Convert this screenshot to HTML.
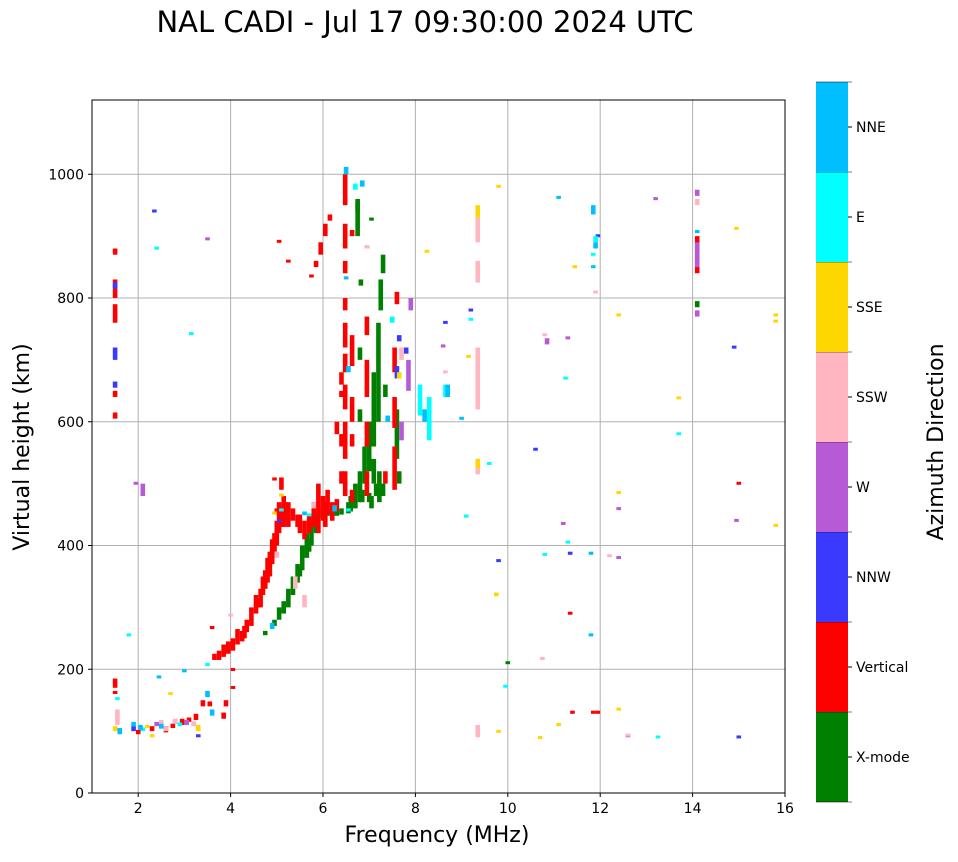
<!DOCTYPE html>
<html><head><meta charset="utf-8"><style>
body{margin:0;background:#fff;}
svg text{font-family:"DejaVu Sans","Liberation Sans",sans-serif;}
</style></head><body>
<svg id="chart" width="958" height="857" viewBox="0 0 958 857" xmlns="http://www.w3.org/2000/svg">
<text x="425" y="32" font-size="29" text-anchor="middle">NAL CADI - Jul 17 09:30:00 2024 UTC</text>
<g id="grid"></g>
<g id="cells"></g>
<rect x="92" y="100" width="693" height="693" fill="none" stroke="#000" stroke-width="1"/>
<g id="axes"></g>
<text x="437" y="842" font-size="22" text-anchor="middle">Frequency (MHz)</text>
<text transform="translate(29,447) rotate(-90)" font-size="22" text-anchor="middle">Virtual height (km)</text>
<g id="cbar"></g>
<text transform="translate(943,442) rotate(-90)" font-size="22" text-anchor="middle">Azimuth Direction</text>
</svg>
<script>
const directionLabels=["X-mode","Vertical","NNW","W","SSW","SSE","E","NNE"];
const directionColors=["#008000","#ff0000","#3a3aff","#b65ad6","#ffb6c1","#ffd700","#00ffff","#00bfff"];
const xTicks=[2,4,6,8,10,12,14,16];
const yTicks=[0,200,400,600,800,1000];
// cells: [frequency MHz, height start km, height end km]
const xmodeCells=[[4.75,255,262],[4.95,270,280],[5.05,280,300],[5.15,290,310],[5.25,300,330],[5.35,320,350],[5.45,340,370],[5.55,360,400],[5.65,380,420],[5.75,400,440],[5.85,420,450],[5.5,350,365],[5.7,390,410],[6.0,445,460],[6.1,448,458],[6.2,445,460],[6.3,448,458],[6.4,450,460],[6.55,452,470],[6.6,455,480],[6.7,460,500],[6.8,470,520],[6.9,500,560],[7.0,520,600],[7.05,460,480],[7.1,560,680],[7.15,480,500],[7.2,600,760],[7.25,780,830],[7.3,840,870],[7.22,470,520],[6.85,470,490],[7.0,470,485],[7.3,480,500],[7.1,500,540],[6.8,600,620],[6.8,700,720],[6.82,820,830],[6.75,900,960],[6.75,940,955],[6.95,880,885],[7.05,925,930],[7.6,540,620],[7.65,500,520],[10.0,210,213],[14.1,785,795],[7.35,640,660]];
const verticalCells=[[1.5,605,615],[1.5,640,650],[1.5,760,790],[1.5,800,830],[1.5,870,880],[1.5,170,185],[1.5,160,165],[2.0,95,102],[2.3,100,108],[2.6,98,108],[2.75,105,112],[2.95,110,120],[3.1,115,122],[3.25,118,128],[3.4,140,150],[3.55,140,148],[3.85,120,130],[3.9,140,150],[3.65,215,225],[3.75,215,230],[3.85,220,240],[3.95,225,245],[4.05,230,250],[4.15,240,265],[4.25,245,262],[4.3,250,270],[4.35,260,280],[4.45,270,300],[4.55,290,320],[4.6,300,315],[4.65,300,330],[4.7,320,350],[4.75,330,360],[4.8,340,380],[4.85,350,390],[4.9,370,410],[4.95,390,420],[5.0,400,440],[5.05,420,470],[5.1,430,460],[5.15,430,480],[5.2,440,470],[5.25,430,470],[5.35,440,460],[5.45,430,450],[5.5,420,450],[5.6,410,440],[5.7,420,450],[5.8,430,470],[5.9,420,500],[6.0,440,480],[6.05,430,470],[6.1,450,490],[6.2,440,470],[6.3,455,475],[5.1,490,510],[5.0,450,460],[4.05,170,173],[4.05,198,202],[3.6,265,270],[4.95,505,510],[5.75,835,838],[5.85,850,860],[5.95,870,890],[6.05,900,920],[6.15,925,935],[5.25,858,862],[5.05,890,894],[6.48,480,520],[6.48,540,600],[6.48,620,660],[6.48,680,710],[6.48,720,760],[6.48,780,800],[6.48,840,860],[6.48,880,920],[6.48,950,1000],[6.4,500,520],[6.4,560,580],[6.4,660,680],[6.63,470,490],[6.63,560,580],[6.63,600,640],[6.63,690,740],[6.63,900,910],[6.3,580,600],[6.4,640,650],[6.95,480,520],[6.95,560,600],[6.95,640,700],[6.95,740,770],[7.55,490,560],[7.55,590,640],[7.55,680,720],[7.6,790,810],[7.35,500,520],[11.35,290,293],[11.4,128,133],[11.85,128,133],[11.95,128,133],[14.1,840,900],[15.0,500,503]];
const nnwCells=[[1.5,700,720],[1.5,655,665],[1.5,815,825],[1.9,100,108],[2.35,940,943],[3.3,90,95],[5.05,438,442],[7.6,670,690],[8.65,760,763],[9.2,780,783],[10.6,555,558],[11.35,385,390],[11.95,900,903],[14.9,720,723],[15.0,90,93],[7.8,710,720],[9.8,375,378],[7.65,730,740],[2.8,112,118]];
const wCells=[[1.95,500,503],[2.1,480,500],[3.5,895,898],[7.9,780,800],[7.85,650,700],[8.6,720,725],[10.85,725,735],[11.2,435,438],[11.3,735,738],[12.4,458,462],[12.4,380,383],[12.6,90,95],[14.1,850,890],[14.1,770,780],[14.1,965,975],[13.2,960,963],[14.95,440,443],[7.7,570,600],[3.05,110,118],[2.4,108,115]];
const ssWCells=[[1.55,110,135],[2.5,110,118],[2.8,112,120],[4.0,285,290],[5.0,380,390],[5.4,330,350],[5.6,300,320],[5.8,460,470],[7.7,700,720],[8.65,680,683],[9.35,620,720],[9.35,825,860],[9.35,890,930],[9.35,90,110],[9.35,515,525],[10.8,740,743],[10.75,215,220],[11.9,808,812],[12.2,383,386],[12.6,92,96],[14.1,950,960],[6.95,880,885],[2.6,100,108],[3.2,108,116]];
const sseCells=[[1.5,100,108],[2.3,90,95],[2.7,160,163],[3.3,100,110],[4.95,450,455],[5.1,480,484],[7.65,670,680],[8.25,875,878],[9.35,930,950],[9.35,525,540],[9.75,318,324],[9.8,98,102],[9.8,980,983],[9.15,705,708],[10.7,90,92],[11.1,110,113],[11.45,850,853],[12.4,772,775],[12.4,485,488],[12.4,135,138],[13.7,638,641],[14.95,912,915],[15.8,772,775],[15.8,762,765],[15.8,432,435],[2.2,105,110]];
const eCells=[[1.55,150,155],[1.8,255,258],[2.4,880,883],[3.15,740,745],[3.5,205,210],[5.1,455,460],[5.7,447,452],[6.55,455,460],[6.7,975,985],[8.1,610,660],[8.3,570,640],[8.65,640,660],[9.1,445,450],[9.2,765,768],[9.6,532,535],[11.25,670,673],[11.3,405,408],[11.9,890,900],[11.85,870,873],[13.25,90,93],[13.7,580,583],[10.8,385,388],[9.95,172,175],[7.5,760,770],[2.1,100,106],[2.9,108,114]];
const nneCells=[[1.6,95,105],[1.9,108,115],[2.05,102,110],[2.45,186,190],[2.5,104,112],[3.0,195,200],[3.5,155,165],[3.6,125,135],[4.9,265,275],[5.6,449,455],[6.25,455,465],[6.5,1000,1012],[6.5,830,835],[6.55,680,690],[6.85,980,990],[7.4,600,610],[8.2,600,620],[8.7,640,660],[9.0,605,608],[11.1,962,965],[11.85,935,950],[11.9,880,890],[11.8,385,390],[11.8,255,258],[11.85,850,853],[14.1,905,910]];
const seriesCells=[xmodeCells,verticalCells,nnwCells,wCells,ssWCells,sseCells,eCells,nneCells];

const X0=92,X1=785,Y0=793,Y1=100,XMIN=1,XMAX=16,YMIN=0,YMAX=1120;
const xs=f=>X0+(f-XMIN)/(XMAX-XMIN)*(X1-X0);
const ys=h=>Y0-(h-YMIN)/(YMAX-YMIN)*(Y0-Y1);
const NS="http://www.w3.org/2000/svg";
function mk(tag,attrs,parent){const e=document.createElementNS(NS,tag);for(const k in attrs)e.setAttribute(k,attrs[k]);parent.appendChild(e);return e;}
const grid=document.getElementById('grid'),axes=document.getElementById('axes'),cells=document.getElementById('cells'),cbar=document.getElementById('cbar');
xTicks.forEach(t=>{const x=xs(t);
 const g=mk('line',{x1:x,x2:x,y1:Y1,y2:Y0,stroke:'#b0b0b0','stroke-width':1},grid);
 
 
 mk('line',{x1:x,x2:x,y1:Y0,y2:Y0+4,stroke:'#000'},axes);
 const tx=mk('text',{x:x,y:Y0+20,'font-size':14,'text-anchor':'middle'},axes);tx.textContent=t;
 
 });
yTicks.forEach(t=>{const y=ys(t);
 const g=mk('line',{x1:X0,x2:X1,y1:y,y2:y,stroke:'#b0b0b0','stroke-width':1},grid);
 
 
 mk('line',{x1:X0-4,x2:X0,y1:y,y2:y,stroke:'#000'},axes);
 const tx=mk('text',{x:X0-8,y:y+5,'font-size':14,'text-anchor':'end'},axes);tx.textContent=t;
 
 });
seriesCells.forEach((arr,d)=>{arr.forEach(c=>{
 const x=xs(c[0]),ya=ys(c[2]),yb=ys(c[1]);const hgt=Math.max(3,yb-ya);
 const r=mk('rect',{x:x-2.3,y:ya,width:4.6,height:hgt,fill:directionColors[d]},cells);
 
 });});
const CB0=82,CB1=802,CBX=816,CBW=32,seg=(CB1-CB0)/8;
directionLabels.forEach((lab,i)=>{const y=CB1-(i+1)*seg;
 const r=mk('rect',{x:CBX,y:y,width:CBW,height:seg,fill:directionColors[i]},cbar);
 
 
 mk('line',{x1:CBX+CBW,x2:CBX+CBW+4,y1:y+seg/2,y2:y+seg/2,stroke:'#000'},cbar);
 mk('line',{x1:CBX,x2:CBX+CBW+4,y1:y,y2:y,stroke:'#000','stroke-width':0.6},cbar);
 const tx=mk('text',{x:CBX+CBW+8,y:y+seg/2+5,'font-size':14},cbar);tx.textContent=lab;
 
 });
mk('line',{x1:CBX,x2:CBX+CBW+4,y1:CB1,y2:CB1,stroke:'#000','stroke-width':0.6},cbar);
</script>
</body></html>
